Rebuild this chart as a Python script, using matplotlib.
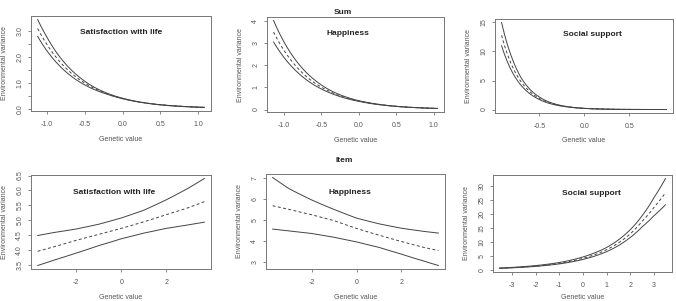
import numpy as np
import matplotlib
matplotlib.use("Agg")
import matplotlib.pyplot as plt

plt.rcParams['font.family'] = ['Liberation Sans', 'DejaVu Sans']

# Sum - satisfaction with life
sum_swl_x = [-1.12, -1.0, -0.8, -0.6, -0.4, -0.2, 0.0, 0.2, 0.4, 0.6, 0.8, 1.0, 1.08]
sum_swl_mid = [3.10, 2.50, 1.73, 1.20, 0.83, 0.58, 0.40, 0.28, 0.19, 0.13, 0.092, 0.064, 0.055]
sum_swl_up = [3.45, 2.78, 1.90, 1.30, 0.88, 0.60, 0.41, 0.28, 0.19, 0.135, 0.095, 0.068, 0.060]
sum_swl_lo = [2.80, 2.25, 1.57, 1.10, 0.78, 0.56, 0.39, 0.27, 0.185, 0.125, 0.088, 0.060, 0.052]

# Sum - happiness
sum_hap_x = [-1.14, -1.0, -0.8, -0.6, -0.4, -0.2, 0.0, 0.2, 0.4, 0.6, 0.8, 1.0, 1.05]
sum_hap_mid = [3.50, 2.67, 1.81, 1.22, 0.83, 0.56, 0.38, 0.26, 0.174, 0.118, 0.080, 0.054, 0.049]
sum_hap_up = [4.02, 3.05, 2.04, 1.36, 0.90, 0.60, 0.40, 0.27, 0.18, 0.12, 0.082, 0.056, 0.050]
sum_hap_lo = [3.05, 2.35, 1.62, 1.11, 0.77, 0.53, 0.37, 0.25, 0.17, 0.115, 0.078, 0.052, 0.047]

# Sum - social support
sum_soc_x = [-0.92, -0.8, -0.7, -0.6, -0.5, -0.4, -0.3, -0.2, -0.1, 0.0, 0.2, 0.4, 0.6, 0.91]
sum_soc_mid = [12.8, 7.4, 4.7, 3.0, 1.92, 1.22, 0.78, 0.50, 0.32, 0.20, 0.08, 0.03, 0.013, 0.003]
sum_soc_up = [15.0, 8.7, 5.4, 3.4, 2.15, 1.35, 0.85, 0.53, 0.33, 0.21, 0.085, 0.032, 0.014, 0.004]
sum_soc_lo = [11.0, 6.4, 4.1, 2.65, 1.72, 1.10, 0.72, 0.47, 0.30, 0.19, 0.076, 0.028, 0.012, 0.003]

# Item - satisfaction with life
item_swl_x = [-3.72, -3, -2, -1, 0, 1, 2, 3, 3.70]
item_swl_mid = [3.95, 4.10, 4.32, 4.52, 4.72, 4.94, 5.18, 5.42, 5.62]
item_swl_up = [4.48, 4.58, 4.70, 4.86, 5.07, 5.33, 5.68, 6.08, 6.40]
item_swl_lo = [3.47, 3.65, 3.89, 4.14, 4.37, 4.56, 4.72, 4.84, 4.93]

# Item - happiness
item_hap_x = [-3.75, -3, -2, -1, 0, 1, 2, 3, 3.65]
item_hap_mid = [5.68, 5.50, 5.25, 4.97, 4.60, 4.28, 3.98, 3.70, 3.55]
item_hap_up = [7.02, 6.48, 5.95, 5.50, 5.09, 4.82, 4.61, 4.46, 4.38]
item_hap_lo = [4.57, 4.48, 4.36, 4.18, 3.96, 3.70, 3.38, 3.05, 2.84]

# Item - social support
item_soc_x = [-3.52, -3, -2, -1, 0, 1, 2, 2.5, 3, 3.48]
item_soc_mid = [0.65, 0.85, 1.4, 2.4, 4.2, 7.3, 13.0, 17.5, 22.5, 27.7]
item_soc_up = [0.72, 0.95, 1.6, 2.7, 4.7, 8.1, 14.5, 19.5, 26.0, 32.8]
item_soc_lo = [0.58, 0.78, 1.3, 2.2, 3.8, 6.6, 11.7, 15.5, 19.5, 23.4]

W, H = 676, 301
fig = plt.figure(figsize=(W / 100, H / 100), dpi=100)

LINE = '#444444'
FRAME = '#777777'
TXT = '#555555'
FS = 5


def smooth(x, y, n=120):
    # log-space interpolation between the read points, only for drawing
    xs = np.linspace(x[0], x[-1], n)
    ys = np.exp(np.interp(xs, x, np.log(y)))
    return xs, ys


def panel(box, x, up, mid, lo, title, xticks, xlabels, yticks, ylabels, tpos, xpad=5.4):
    l, t, r, b = box
    ax = fig.add_axes([l / W, (H - b) / H, (r - l) / W, (b - t) / H])
    for y, ls in [(up, '-'), (lo, '-'), (mid, (0, (3, 2.5)))]:
        xs, ys = smooth(x, y)
        ax.plot(xs, ys, color=LINE, lw=0.7, ls=ls)
    ax.margins(0.04)
    ax.set_xticks(xticks)
    ax.set_xticklabels(xlabels)
    ax.set_yticks(yticks)
    ax.set_yticklabels(ylabels, rotation=90, va='center')
    for s in ax.spines.values():
        s.set_color(FRAME)
        s.set_linewidth(0.7)
    ax.tick_params(length=2.5, width=0.6, color=FRAME, labelsize=FS,
                   labelcolor=TXT)
    ax.tick_params(axis='x', pad=5)
    ax.tick_params(axis='y', pad=3)
    ax.set_xlabel('Genetic value', fontsize=FS, color=TXT, labelpad=xpad)
    ax.set_ylabel('Environmental variance', fontsize=FS, color=TXT, labelpad=6)
    ax.text(tpos[0], tpos[1], title, transform=ax.transAxes, ha='center',
            va='center', fontsize=6, fontweight='bold', color='#222222')
    return ax


def fmt(vals, dec):
    return [('%.' + str(dec) + 'f') % v for v in vals]


sum_xt = [-1.0, -0.5, 0.0, 0.5, 1.0]
panel((31, 16, 211, 111), sum_swl_x, sum_swl_up, sum_swl_mid, sum_swl_lo,
      'Satisfaction with life', sum_xt, fmt(sum_xt, 1),
      [0, 0.5, 1, 1.5, 2, 2.5, 3], ['0.0', '', '1.0', '', '2.0', '', '3.0'], (0.5, 0.83))
panel((267, 17, 444, 112), sum_hap_x, sum_hap_up, sum_hap_mid, sum_hap_lo,
      'Happiness', sum_xt, fmt(sum_xt, 1),
      [0, 1, 2, 3, 4], ['0', '1', '2', '3', '4'], (0.46, 0.83))
panel((495, 19, 673, 113), sum_soc_x, sum_soc_up, sum_soc_mid, sum_soc_lo,
      'Social support', [-0.5, 0.0, 0.5], fmt([-0.5, 0.0, 0.5], 1),
      [0, 5, 10, 15], ['0', '5', '10', '15'], (0.55, 0.84), xpad=4.5)
swl_yt = [3.5, 4.0, 4.5, 5.0, 5.5, 6.0, 6.5]
panel((31, 175, 211, 269), item_swl_x, item_swl_up, item_swl_mid, item_swl_lo,
      'Satisfaction with life', [-2, 0, 2], ['-2', '0', '2'],
      swl_yt, fmt(swl_yt, 1), (0.46, 0.81))
panel((266, 174, 445, 269), item_hap_x, item_hap_up, item_hap_mid, item_hap_lo,
      'Happiness', [-2, 0, 2], ['-2', '0', '2'],
      [3, 4, 5, 6, 7], ['3', '4', '5', '6', '7'], (0.47, 0.81))
soc_xt = [-3, -2, -1, 0, 1, 2, 3]
soc_yt = [0, 5, 10, 15, 20, 25, 30]
panel((493, 175, 672, 272), item_soc_x, item_soc_up, item_soc_mid, item_soc_lo,
      'Social support', soc_xt, [str(v) for v in soc_xt],
      soc_yt, [str(v) for v in soc_yt], (0.55, 0.81), xpad=3.2)

fig.text(343 / W, 1 - 13 / H, 'Sum', ha='center', va='center', fontsize=6,
         fontweight='bold', color='#222222')
fig.text(344 / W, 1 - 161 / H, 'Item', ha='center', va='center', fontsize=6,
         fontweight='bold', color='#222222')

fig.savefig('out.png', dpi=100)
